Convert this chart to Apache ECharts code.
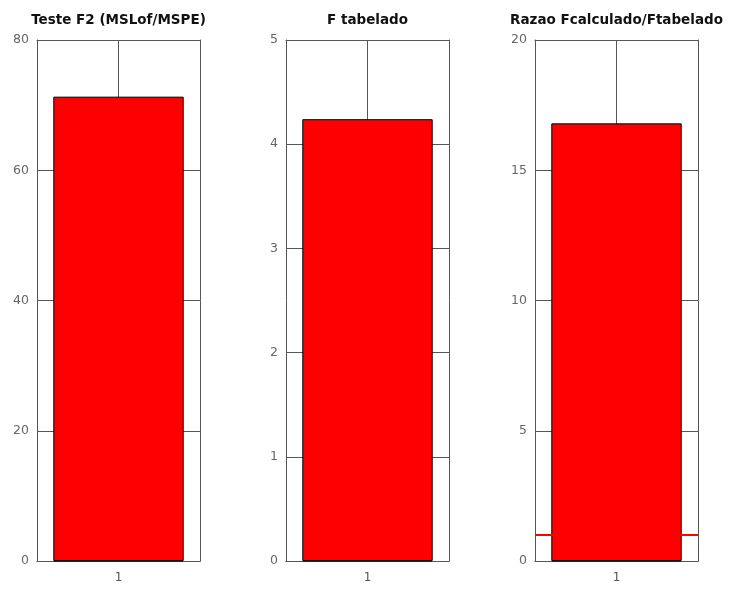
<!DOCTYPE html>
<html>
<head>
<meta charset="utf-8">
<script src="https://cdn.jsdelivr.net/npm/echarts@6/dist/echarts.min.js"></script>
<style>
  html, body { margin: 0; padding: 0; background: #fff; }
  #chart { width: 730px; height: 590px; }
</style>
</head>
<body>
<div id="chart"></div>
<script>
// dados
const categories = ['1'];
const titles = ['Teste F2 (MSLof/MSPE)', 'F tabelado', 'Razao Fcalculado/Ftabelado'];
const valuesF2 = [71.3];
const valuesFtab = [4.24];
const valuesRazao = [16.8];
const yMax = [80, 5, 20];
const yStep = [20, 1, 5];
const refLine = 1; // linha vermelha no terceiro painel

const panelLeft = [37, 286, 535];
const panelWidth = 163;
const gridTop = 40, gridHeight = 521;
const boxColor = '#555';
const font = 'DejaVu Sans, Liberation Sans, sans-serif';

const seriesData = [valuesF2, valuesFtab, valuesRazao];

const grid = [], xAxis = [], yAxis = [], series = [], title = [];

panelLeft.forEach((left, i) => {
  grid.push({ left, top: gridTop, width: panelWidth, height: gridHeight, containLabel: false });
  title.push({
    text: titles[i],
    left: left + panelWidth / 2,
    top: 13,
    padding: 0,
    textAlign: 'center',
    textStyle: { fontFamily: font, fontSize: 13.5, fontWeight: 'bold', color: '#111' }
  });
  // eixo x inferior
  xAxis.push({
    type: 'category', gridIndex: i, data: categories, position: 'bottom',
    axisLine: { onZero: false, lineStyle: { color: '#222' } },
    axisTick: { show: false },
    axisLabel: { color: '#555', fontFamily: font, fontSize: 12, margin: 11 }
  });
  // eixo x superior: traço central de cima a baixo
  xAxis.push({
    type: 'category', gridIndex: i, data: categories, position: 'top',
    axisLine: { onZero: false, lineStyle: { color: boxColor } },
    axisTick: { show: true, inside: true, alignWithLabel: true, length: gridHeight, lineStyle: { color: boxColor } },
    axisLabel: { show: false }
  });
  yAxis.push({
    type: 'value', gridIndex: i, min: 0, max: yMax[i], interval: yStep[i], position: 'left',
    axisLine: { show: true, onZero: false, lineStyle: { color: boxColor } },
    axisTick: { show: true, inside: true, length: 17, lineStyle: { color: boxColor } },
    splitLine: { show: false },
    axisLabel: { color: '#666', fontFamily: font, fontSize: 12.5, margin: 8 }
  });
  yAxis.push({
    type: 'value', gridIndex: i, min: 0, max: yMax[i], interval: yStep[i], position: 'right',
    axisLine: { show: true, onZero: false, lineStyle: { color: boxColor } },
    axisTick: { show: true, inside: true, length: 17, lineStyle: { color: boxColor } },
    splitLine: { show: false },
    axisLabel: { show: false }
  });
  series.push({
    type: 'bar',
    xAxisIndex: i * 2, yAxisIndex: i * 2,
    data: seriesData[i],
    barWidth: '80%',
    z: 3,
    itemStyle: { color: '#ff0000', borderColor: '#000', borderWidth: 1 },
    silent: true
  });
});

// linha de referência (atrás da barra)
series.push({
  type: 'line', xAxisIndex: 4, yAxisIndex: 4, data: [], z: 1,
  markLine: {
    silent: true, symbol: 'none', label: { show: false },
    lineStyle: { color: '#ff0000', width: 2, type: 'solid' },
    data: [{ yAxis: refLine }]
  }
});

const chart = echarts.init(document.getElementById('chart'));
chart.setOption({
  animation: false,
  backgroundColor: '#fff',
  title, grid, xAxis, yAxis, series
});
</script>
</body>
</html>
